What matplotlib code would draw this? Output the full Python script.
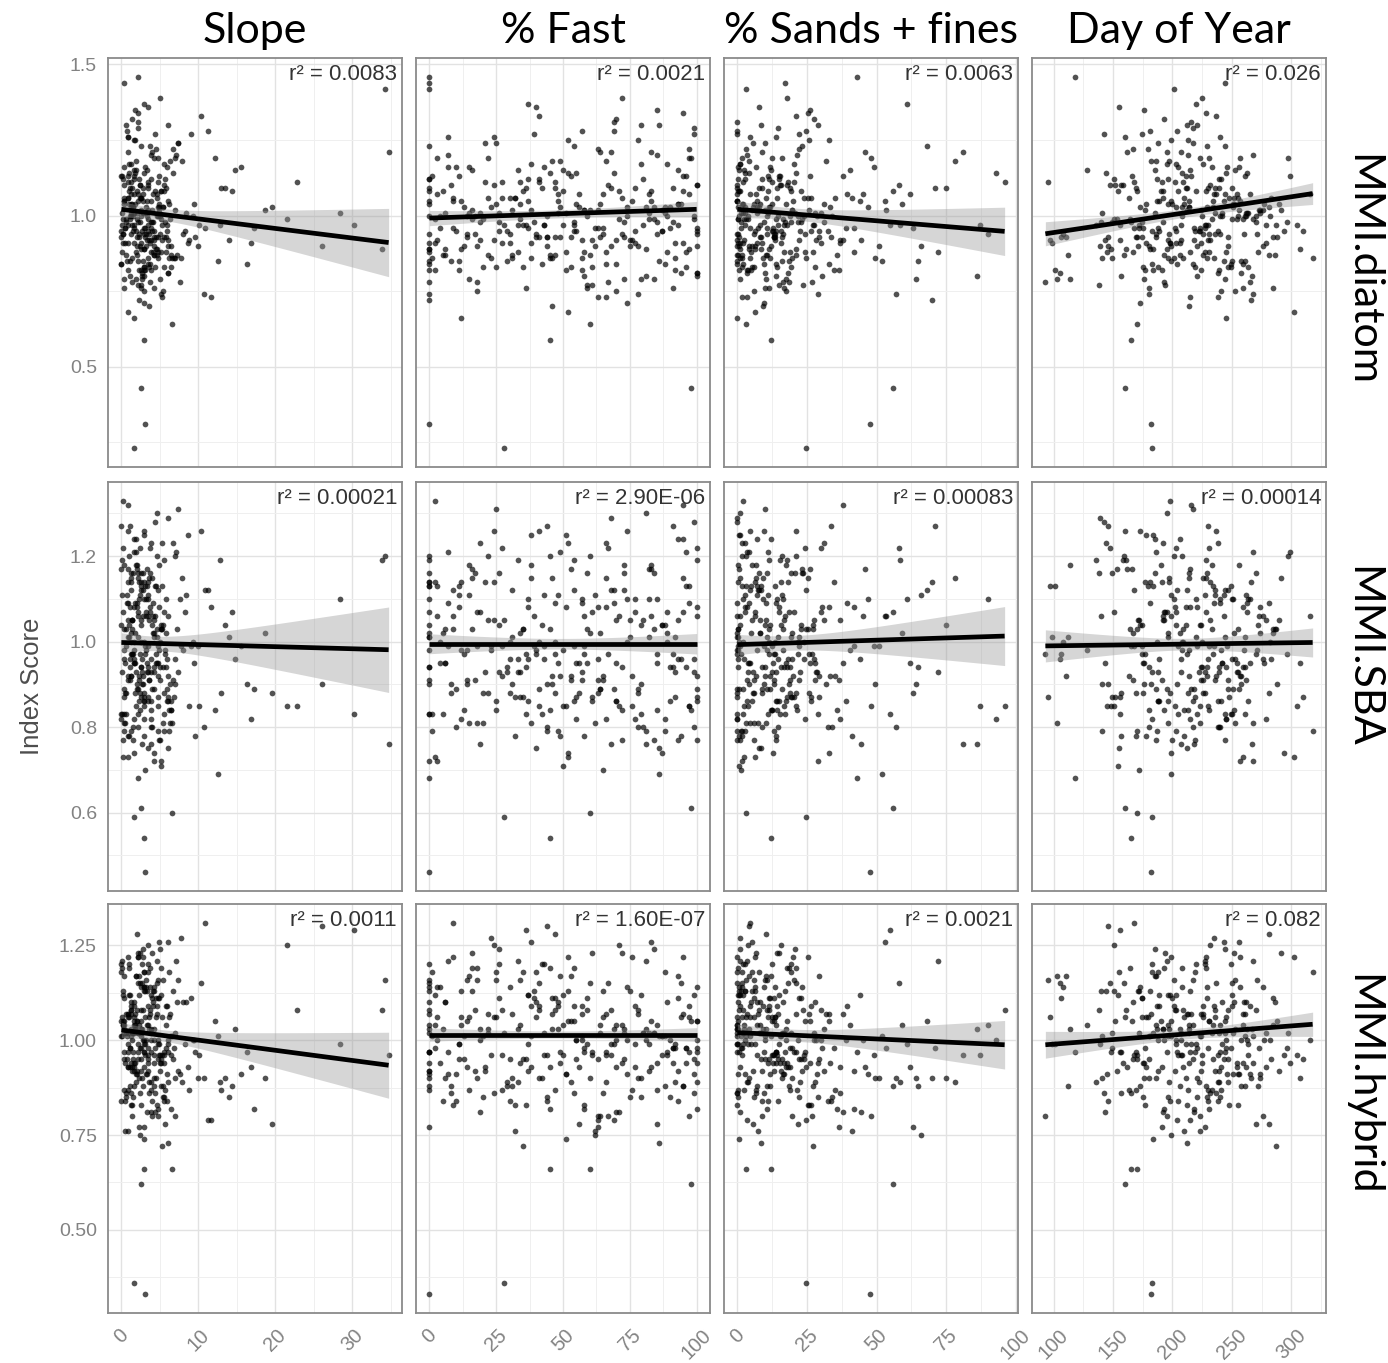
import numpy as np
import matplotlib.pyplot as plt
from matplotlib.ticker import MultipleLocator, FormatStrFormatter

slope = np.array([
    1.6, 3.1, 2.5, 2.9, 6.6, 0.4, 4.8, 2.3, 5.1, 1.2, 0.1, 7.3, 3.7, 5.6, 0.9, 10.4, 2.7, 4.0, 1.5, 14.8,
    3.4, 2.4, 0.6, 5.2, 1.9, 3.3, 6.2, 4.4, 9.1, 0.5, 2.8, 4.6, 1.1, 0.0, 6.1, 3.0, 34.7, 2.0, 5.4, 3.9,
    0.3, 4.2, 1.4, 2.6, 5.9, 12.6, 3.5, 0.9, 5.8, 2.2, 3.0, 1.6, 8.3, 4.7, 2.3, 1.0, 4.8, 6.9, 21.5, 1.4,
    2.0, 5.0, 3.5, 1.1, 7.0, 0.2, 2.9, 4.3, 1.8, 10.9, 4.2, 0.3, 3.6, 2.4, 16.3, 5.7, 1.3, 6.5, 3.2, 0.9,
    1.9, 4.5, 6.4, 2.6, 0.0, 3.8, 3.7, 1.7, 33.9, 2.2, 5.3, 4.9, 0.7, 1.6, 8.8, 2.8, 6.0, 13.4, 3.1, 0.9,
    4.1, 2.5, 1.2, 5.0, 0.4, 3.4, 1.7, 6.3, 7.7, 2.0, 0.1, 11.6, 3.9, 4.3, 2.6, 5.5, 1.0, 6.0, 3.3, 22.8,
    1.5, 4.6, 3.8, 0.9, 2.3, 5.8, 9.6, 2.1, 4.5, 1.8, 2.9, 6.7, 17.2, 3.2, 0.0, 3.1, 5.3, 1.2, 4.0, 2.7,
    0.7, 2.6, 4.9, 6.8, 1.2, 4.0, 3.0, 0.4, 2.4, 12.1, 5.2, 3.6, 1.5, 2.1, 8.0, 4.4, 0.6, 1.7, 30.2, 4.7,
    2.8, 1.0, 5.5, 3.3, 1.4, 7.4, 3.9, 2.0, 0.1, 5.6, 1.6, 14.0, 4.6, 2.5, 6.1, 4.1, 0.3, 9.9, 1.9, 3.5,
    1.3, 3.0, 5.7, 2.2, 6.3, 0.9, 4.8, 4.6, 0.2, 2.9, 2.7, 19.6, 3.7, 3.5, 1.4, 0.0, 7.9, 2.0, 5.0, 5.1,
    0.5, 1.8, 2.9, 4.4, 4.3, 1.2, 10.7, 3.4, 2.4, 6.4, 0.1, 6.7, 3.2, 0.9, 1.9, 15.5, 5.9, 2.6, 1.1, 34.2,
    2.1, 4.2, 1.3, 3.8, 0.2, 5.9, 1.6, 3.1, 2.8, 8.6, 4.7, 0.4, 4.9, 2.3, 13.0, 6.2, 1.4, 3.4, 0.9, 26.0,
    3.6, 0.8, 2.2, 5.4, 1.7, 7.1, 2.9, 4.1, 0.5, 9.3, 3.3, 1.9, 6.0, 2.5, 0.2, 11.3, 4.5, 1.1, 3.0, 18.7,
    4.9, 2.0, 0.6, 3.7, 6.6, 1.4, 2.7, 5.3, 0.3, 3.9, 8.4, 1.8, 4.2, 2.4, 12.8, 0.8, 5.6, 3.2, 1.5, 2.6,
    1.1, 5.1, 3.4, 0.4, 2.3, 4.8, 7.6, 1.6, 3.0, 0.9, 5.8, 2.1, 16.8, 3.6, 1.3, 4.3, 0.0, 6.9, 2.8, 10.1,
    2.5, 3.8, 1.0, 6.1, 4.6, 0.6, 2.9, 9.4, 1.7, 5.0, 3.5, 0.2, 4.0, 7.2, 1.2, 2.2, 5.4, 14.4, 3.1, 28.4,
])

pct_fast = np.array([
    28, 0, 98, 45, 60, 12, 73, 37, 0, 88, 54, 21, 66, 5, 92, 41, 79, 16, 100, 33,
    57, 8, 84, 0, 49, 70, 25, 96, 39, 62, 3, 81, 14, 53, 100, 30, 68, 47, 90, 19,
    0, 75, 36, 59, 10, 86, 43, 27, 64, 99, 51, 6, 77, 34, 0, 94, 58, 22, 71, 45,
    83, 17, 40, 100, 63, 2, 55, 31, 78, 9, 91, 48, 24, 67, 0, 85, 38, 13, 74, 52,
    29, 97, 61, 4, 44, 80, 18, 56, 0, 69, 35, 93, 11, 50, 76, 26, 100, 42, 65, 7,
    89, 32, 0, 72, 15, 58, 95, 46, 23, 82, 1, 63, 37, 87, 54, 20, 0, 68, 99, 41,
    13, 60, 85, 28, 0, 77, 49, 95, 6, 34, 70, 52, 100, 19, 88, 43, 3, 65, 26, 81,
    57, 0, 38, 92, 47, 10, 74, 30, 62, 98, 16, 53, 84, 0, 40, 71, 22, 96, 36, 59,
    8, 79, 44, 0, 67, 25, 90, 51, 33, 100, 12, 75, 48, 2, 86, 39, 64, 18, 93, 55,
    31, 97, 0, 61, 20, 83, 46, 9, 72, 37, 94, 56, 27, 0, 80, 42, 66, 14, 89, 50,
    4, 69, 35, 99, 57, 0, 78, 24, 91, 45, 15, 63, 100, 32, 73, 7, 54, 87, 29, 0,
    82, 41, 17, 66, 0, 93, 52, 11, 76, 38, 97, 59, 23, 85, 47, 1, 70, 34, 95, 44,
    65, 21, 0, 88, 43, 7, 58, 97, 30, 74, 16, 51, 83, 36, 2, 69, 47, 91, 25, 60,
    11, 78, 54, 0, 38, 93, 26, 66, 100, 19, 48, 85, 5, 72, 33, 57, 89, 14, 44, 0,
    99, 35, 70, 15, 53, 81, 0, 41, 63, 24, 96, 9, 77, 46, 58, 3, 87, 31, 68, 50,
    22, 92, 45, 61, 0, 79, 12, 55, 37, 84, 27, 100, 64, 6, 49, 73, 18, 95, 40, 82,
])

pct_sands = np.array([
    24.5, 47.5, 56, 12, 3, 0, 8.5, 15, 27, 1.2, 18, 5.5, 33, 11, 0.4, 21, 64, 6.8, 14, 2.3,
    9.2, 0, 16.5, 29, 4.1, 38, 12.6, 1.5, 22, 7.3, 45, 0.8, 19, 26, 3.6, 13.4, 81, 10.2, 0.2, 31,
    17.2, 5.1, 0, 23.5, 11.8, 52, 2.7, 35, 8.1, 14.7, 0.6, 28, 6.2, 20.3, 70, 1.8, 42, 15.9, 3.9, 24.8,
    0.3, 13.1, 7.7, 30.5, 19.6, 2.1, 93, 10.8, 25.7, 4.6, 16.8, 0, 37, 58, 9.6, 21.9, 1.1, 12.2, 47, 6.5,
    22.6, 3.2, 14.3, 0.7, 33.8, 8.8, 18.4, 62, 11.5, 0, 27.1, 5.9, 16.1, 40.5, 2.5, 20.7, 9.9, 75, 1.4, 13.8,
    4.8, 26.3, 0.1, 17.9, 10.4, 53.5, 7.1, 31.7, 0.9, 23.1, 15.2, 3.4, 44, 12.9, 68, 6.0, 19.1, 0, 28.6, 96,
    11.2, 1.6, 21.4, 8.3, 36.4, 14.1, 0.5, 25.2, 4.3, 59, 17.6, 2.9, 10.6, 29.9, 0, 49, 13.6, 6.6, 22.9, 86,
    0, 15.6, 5.3, 19.8, 2.0, 32.4, 9.4, 24.1, 66, 12.4, 0.3, 27.8, 7.9, 43, 16.3, 1.0, 20.9, 11.0, 55, 3.7,
    18.7, 0.8, 13.3, 6.9, 26.9, 10.0, 39, 2.6, 72, 15.4, 0, 22.3, 4.4, 34.6, 8.6, 17.0, 1.9, 51, 12.0, 29.3,
    7.5, 21.2, 0.4, 14.9, 3.1, 46, 11.6, 25.4, 0, 61, 18.1, 5.7, 30.1, 9.0, 16.7, 2.2, 78, 13.0, 23.8, 0.6,
    12.7, 4.0, 19.3, 0, 28.2, 8.0, 57, 15.8, 1.3, 35.9, 10.9, 22.0, 6.3, 41, 17.4, 0.2, 26.5, 9.8, 65, 3.0,
    0, 16.0, 10.5, 24.4, 2.8, 14.5, 32.9, 5.0, 20.1, 0.9, 48, 11.3, 7.2, 90, 18.9, 1.7, 27.4, 13.7, 38, 4.2,
    6.1, 18.3, 0, 11.9, 27.7, 3.5, 14.0, 39.5, 8.7, 21.6, 0.5, 16.9, 53, 10.1, 2.4, 24.7, 13.2, 71, 5.4, 19.7,
    15.1, 0.7, 9.5, 23.3, 4.5, 31.2, 12.3, 1.6, 17.8, 44.5, 7.0, 26.0, 0, 14.2, 58.5, 3.3, 20.4, 10.7, 34.1, 8.4,
    0.2, 22.8, 13.9, 6.7, 29.5, 2.9, 16.4, 11.4, 63, 4.7, 19.0, 0, 36.8, 9.3, 25.6, 1.5, 15.5, 49.5, 7.6, 87,
    10.3, 3.8, 21.0, 0, 14.6, 28.9, 6.4, 17.3, 42, 1.1, 12.5, 24.2, 8.9, 0.4, 33.3, 19.4, 5.8, 56, 13.5, 2.0,
])

day_of_year = np.array([
    183, 182, 160, 165, 170, 214, 247, 196, 272, 141, 228, 188, 259, 205, 99, 237, 176, 291, 219, 253,
    201, 157, 233, 268, 186, 143, 210, 249, 174, 223, 316, 195, 262, 166, 238, 108, 207, 281, 229, 192,
    244, 171, 212, 138, 256, 199, 227, 163, 285, 217, 184, 242, 203, 95, 266, 178, 231, 297, 151, 209,
    190, 236, 155, 221, 276, 198, 245, 112, 213, 168, 259, 187, 232, 147, 204, 270, 226, 180, 251, 302,
    222, 179, 264, 208, 146, 239, 193, 254, 161, 216, 287, 200, 243, 128, 230, 185, 258, 211, 172, 240,
    167, 248, 197, 225, 103, 273, 206, 182, 235, 153, 261, 215, 189, 294, 244, 175, 220, 139, 255, 202,
    234, 159, 213, 279, 191, 250, 169, 228, 307, 196, 241, 144, 218, 263, 183, 205, 97, 237, 174, 267,
    181, 224, 256, 149, 209, 238, 173, 283, 199, 231, 164, 247, 214, 118, 260, 192, 226, 299, 156, 242,
    258, 203, 170, 234, 93, 217, 188, 274, 227, 158, 245, 196, 265, 177, 212, 140, 251, 221, 185, 310,
    212, 148, 241, 194, 268, 162, 229, 255, 186, 220, 105, 281, 203, 239, 172, 249, 197, 288, 225, 154,
    175, 263, 219, 142, 207, 252, 180, 232, 296, 193, 236, 167, 276, 210, 114, 246, 189, 224, 261, 201,
    244, 186, 270, 215, 151, 230, 199, 101, 257, 178, 223, 285, 208, 240, 169, 318, 193, 254, 216, 146,
    226, 191, 250, 173, 207, 268, 157, 235, 198, 282, 215, 145, 243, 180, 259, 204, 106, 230, 188, 274,
    211, 247, 165, 229, 196, 290, 183, 238, 152, 218, 262, 176, 206, 252, 136, 224, 195, 271, 240, 184,
    250, 170, 217, 233, 110, 203, 265, 187, 227, 160, 245, 199, 279, 214, 177, 257, 223, 141, 236, 305,
    192, 239, 208, 156, 261, 221, 181, 277, 202, 244, 168, 231, 195, 286, 214, 149, 253, 228, 174, 264,
])

mmi_diatom = np.array([
    0.23, 0.31, 0.43, 0.59, 0.64, 1.05, 0.93, 1.12, 0.88, 1.01, 0.97, 1.24, 0.84, 1.08, 0.91, 1.33, 0.79, 1.02, 0.95, 1.15,
    0.86, 1.10, 0.99, 0.74, 1.18, 0.92, 1.04, 0.83, 1.27, 0.96, 1.07, 0.89, 1.00, 1.13, 0.81, 0.94, 1.21, 0.87, 1.03, 0.98,
    1.44, 0.90, 1.09, 0.77, 1.16, 0.85, 0.97, 1.06, 0.93, 1.29, 0.82, 1.01, 0.95, 1.11, 0.72, 1.04, 0.88, 1.19, 0.99, 0.86,
    1.08, 0.94, 1.36, 0.80, 1.02, 0.91, 1.14, 0.87, 1.25, 0.96, 0.76, 1.05, 0.92, 1.10, 0.84, 0.98, 1.17, 0.90, 1.03, 0.68,
    0.95, 1.22, 0.83, 1.00, 0.93, 1.12, 0.78, 1.07, 0.89, 1.31, 0.97, 1.04, 0.85, 1.15, 0.92, 1.01, 0.81, 1.09, 0.96, 1.26,
    0.88, 1.06, 0.94, 1.39, 0.79, 1.02, 0.91, 1.18, 0.86, 0.99, 1.13, 0.73, 1.05, 0.95, 1.23, 0.83, 1.08, 0.90, 1.00, 1.11,
    1.03, 0.87, 1.20, 0.97, 0.82, 1.09, 0.93, 1.34, 0.89, 1.04, 0.75, 1.14, 0.96, 1.01, 0.84, 1.16, 0.92, 1.07, 0.98, 0.80,
    1.28, 0.91, 1.02, 0.86, 1.11, 0.95, 0.71, 1.06, 0.90, 1.19, 0.99, 0.83, 1.03, 1.46, 0.94, 1.08, 0.87, 1.13, 0.97, 1.00,
    0.85, 1.17, 0.93, 1.05, 0.78, 1.24, 0.96, 1.01, 0.88, 1.10, 0.66, 0.92, 1.07, 0.82, 1.30, 0.98, 1.04, 0.90, 1.15, 0.95,
    1.02, 0.89, 1.12, 0.77, 0.99, 1.21, 0.86, 1.06, 0.94, 1.37, 0.81, 1.03, 0.91, 1.09, 0.97, 0.84, 1.18, 0.93, 1.00, 1.08,
    0.96, 1.14, 0.83, 1.27, 0.92, 1.04, 0.74, 1.10, 0.98, 0.87, 1.01, 1.22, 0.90, 1.06, 0.79, 1.16, 0.95, 1.02, 0.85, 1.42,
    1.07, 0.93, 1.00, 0.88, 1.12, 0.97, 1.25, 0.82, 1.05, 0.91, 1.19, 0.76, 1.03, 0.94, 1.09, 0.86, 1.32, 0.99, 1.13, 0.90,
    0.94, 1.11, 0.85, 1.03, 0.97, 1.20, 0.80, 1.07, 0.91, 1.00, 1.15, 0.88, 1.05, 0.76, 0.99, 1.28, 0.93, 1.09, 0.83, 1.02,
    1.13, 0.90, 0.98, 1.23, 0.86, 1.04, 0.95, 0.73, 1.10, 0.92, 1.01, 1.35, 0.87, 1.06, 0.97, 0.82, 1.17, 0.94, 1.00, 0.89,
    0.99, 1.08, 0.84, 1.16, 0.93, 1.03, 0.78, 1.12, 0.96, 1.26, 0.88, 1.05, 0.91, 0.70, 1.02, 1.19, 0.95, 0.86, 1.09, 0.97,
    1.06, 0.82, 1.14, 0.92, 1.00, 1.30, 0.89, 1.04, 0.96, 0.79, 1.11, 0.94, 1.21, 0.87, 1.03, 0.98, 0.75, 1.08, 0.93, 1.01,
])

mmi_sba = np.array([
    0.59, 0.46, 0.61, 0.54, 0.60, 0.98, 1.12, 0.86, 1.04, 0.79, 1.19, 0.93, 1.08, 0.83, 1.01, 1.26, 0.90, 1.15, 0.77, 0.96,
    1.10, 0.88, 1.03, 0.72, 1.21, 0.95, 0.84, 1.13, 0.99, 0.81, 1.06, 1.30, 0.91, 1.17, 0.86, 1.00, 0.76, 1.09, 0.94, 1.23,
    0.83, 1.05, 0.97, 1.16, 0.89, 0.69, 1.11, 0.92, 1.02, 0.80, 1.25, 0.95, 1.07, 0.87, 1.14, 0.78, 0.99, 1.20, 0.85, 1.03,
    1.18, 0.91, 0.75, 1.08, 0.96, 1.33, 0.82, 1.01, 0.88, 1.12, 0.94, 0.79, 1.05, 1.22, 0.90, 0.97, 1.15, 0.84, 1.10, 0.73,
    0.93, 1.13, 0.86, 1.00, 1.27, 0.80, 1.07, 0.95, 1.19, 0.89, 1.03, 0.77, 1.11, 0.98, 0.85, 1.16, 0.92, 1.04, 0.70, 1.09,
    1.02, 0.87, 1.14, 0.94, 0.81, 1.06, 1.24, 0.90, 0.99, 1.17, 0.83, 1.08, 0.96, 0.74, 1.12, 0.88, 1.01, 1.29, 0.93, 0.85,
    0.97, 1.20, 0.84, 1.05, 0.91, 1.10, 0.78, 1.15, 0.95, 1.02, 0.86, 1.23, 0.89, 1.07, 0.82, 0.99, 1.13, 0.92, 1.04, 0.76,
    1.09, 0.94, 1.18, 0.87, 1.00, 0.80, 1.26, 0.96, 1.11, 0.84, 1.03, 0.91, 1.16, 0.68, 0.98, 1.06, 0.88, 1.21, 0.83, 0.95,
    0.90, 1.04, 0.79, 1.13, 0.97, 1.31, 0.86, 1.08, 0.93, 1.19, 0.82, 1.01, 0.95, 1.14, 0.75, 1.06, 0.89, 0.99, 1.24, 0.87,
    1.12, 0.85, 0.98, 1.07, 0.81, 1.17, 0.92, 1.03, 0.77, 1.10, 0.96, 0.88, 1.22, 0.94, 1.05, 0.83, 1.15, 0.90, 1.00, 0.71,
    0.95, 1.09, 0.87, 1.28, 0.93, 1.02, 0.80, 1.14, 0.97, 0.84, 1.11, 0.91, 1.06, 0.78, 1.18, 0.99, 0.86, 1.04, 0.94, 1.20,
    1.01, 0.89, 1.16, 0.82, 1.07, 0.96, 0.74, 1.13, 0.92, 1.25, 0.85, 1.03, 0.98, 1.10, 0.88, 0.79, 1.05, 0.93, 1.32, 0.90,
    0.91, 1.14, 0.83, 1.04, 0.96, 1.21, 0.78, 1.09, 0.88, 1.00, 1.17, 0.85, 1.06, 0.94, 0.73, 1.12, 0.97, 1.27, 0.86, 1.02,
    1.08, 0.89, 0.99, 1.16, 0.81, 1.05, 0.93, 1.23, 0.87, 0.76, 1.11, 0.95, 1.02, 0.84, 1.19, 0.91, 1.07, 0.98, 0.80, 1.13,
    0.96, 1.03, 0.86, 1.18, 0.92, 0.79, 1.10, 1.00, 0.88, 1.26, 0.94, 1.06, 0.82, 1.15, 0.97, 0.72, 1.04, 0.90, 1.12, 0.85,
    1.05, 0.93, 1.20, 0.87, 1.01, 0.83, 1.14, 0.95, 1.08, 0.77, 0.99, 1.22, 0.89, 1.03, 0.92, 1.16, 0.81, 1.07, 0.97, 1.10,
])

mmi_hybrid = np.array([
    0.36, 0.33, 0.62, 0.66, 0.66, 1.04, 0.95, 1.12, 0.88, 1.01, 1.19, 0.92, 1.07, 0.84, 0.99, 1.15, 0.90, 1.23, 0.97, 1.03,
    1.09, 0.86, 1.02, 0.94, 1.17, 0.81, 1.06, 0.98, 1.11, 0.76, 1.00, 1.21, 0.93, 1.05, 0.89, 1.14, 0.96, 1.28, 0.85, 1.03,
    0.97, 1.13, 0.83, 1.08, 0.91, 1.01, 1.20, 0.87, 1.04, 0.95, 0.74, 1.10, 0.99, 1.16, 0.90, 1.06, 0.82, 1.02, 1.25, 0.93,
    1.05, 0.92, 1.18, 0.98, 0.80, 1.12, 1.00, 0.88, 1.07, 1.31, 0.94, 1.03, 0.86, 1.15, 0.97, 0.78, 1.09, 1.01, 0.91, 1.22,
    0.89, 1.06, 0.96, 1.14, 0.84, 1.02, 1.19, 0.93, 1.08, 0.99, 0.72, 1.11, 0.95, 1.04, 0.87, 1.24, 1.00, 0.90, 1.13, 0.97,
    1.10, 0.83, 1.03, 0.94, 1.17, 0.98, 0.88, 1.07, 1.27, 0.92, 1.01, 0.79, 1.12, 0.96, 1.05, 0.85, 1.20, 0.99, 0.91, 1.08,
    0.95, 1.15, 0.87, 1.02, 0.77, 1.09, 0.97, 1.22, 0.90, 1.04, 0.93, 1.13, 0.82, 1.00, 1.18, 0.96, 1.06, 0.86, 1.11, 1.03,
    1.01, 0.92, 1.26, 0.98, 1.08, 0.84, 1.14, 0.95, 0.75, 1.05, 1.19, 0.89, 1.02, 0.97, 1.10, 0.81, 1.07, 0.94, 1.29, 0.99,
    0.88, 1.12, 0.96, 1.04, 0.80, 1.16, 1.00, 0.91, 1.21, 0.94, 1.06, 0.85, 1.09, 0.98, 0.73, 1.13, 1.02, 0.90, 1.17, 0.95,
    1.07, 0.97, 0.87, 1.23, 1.01, 0.93, 1.11, 0.83, 1.04, 0.99, 1.15, 0.78, 1.08, 0.92, 1.02, 1.20, 0.89, 1.05, 0.96, 1.12,
    0.94, 1.03, 1.18, 0.86, 1.00, 1.10, 0.90, 1.25, 0.98, 0.82, 1.06, 0.95, 1.14, 0.76, 1.03, 0.91, 1.09, 1.01, 0.88, 1.16,
    1.02, 0.90, 1.08, 0.97, 1.13, 0.84, 1.05, 0.99, 1.22, 0.93, 0.80, 1.11, 0.96, 1.04, 0.87, 1.18, 1.00, 0.94, 1.07, 1.30,
    1.06, 0.93, 1.15, 0.88, 1.02, 1.21, 0.97, 1.09, 0.84, 1.00, 1.13, 0.91, 1.26, 0.95, 1.04, 0.79, 1.11, 0.98, 1.18, 0.90,
    0.99, 1.08, 0.86, 1.14, 1.01, 0.92, 1.20, 0.96, 1.05, 0.81, 1.10, 0.94, 1.03, 1.23, 0.89, 1.07, 0.97, 1.16, 0.85, 1.02,
    1.12, 0.95, 1.04, 0.87, 1.17, 1.00, 0.91, 1.09, 0.77, 1.06, 0.98, 1.22, 0.93, 1.03, 0.83, 1.14, 1.01, 0.90, 1.08, 0.96,
    1.03, 0.89, 1.19, 0.97, 1.07, 0.85, 1.13, 1.00, 0.92, 1.24, 0.96, 1.05, 0.80, 1.10, 0.94, 1.02, 1.16, 0.88, 1.06, 0.99,
])

col_titles = ["Slope", "% Fast", "% Sands + fines", "Day of Year"]
row_titles = ["MMI.diatom", "MMI.SBA", "MMI.hybrid"]

r2_labels = [
    ["0.0083", "0.0021", "0.0063", "0.026"],
    ["0.00021", "2.90E-06", "0.00083", "0.00014"],
    ["0.0011", "1.60E-07", "0.0021", "0.082"],
]

# fitted line at the left / right end of each panel and CI half width at the right end
fit_left = [
    [1.021, 0.992, 1.021, 0.940],
    [0.998, 0.995, 0.993, 0.990],
    [1.027, 1.015, 1.020, 0.988],
]
fit_right = [
    [0.911, 1.021, 0.948, 1.073],
    [0.981, 0.995, 1.013, 0.998],
    [0.934, 1.015, 0.988, 1.042],
]
band_right = [
    [0.113, 0.026, 0.080, 0.036],
    [0.100, 0.024, 0.069, 0.034],
    [0.087, 0.018, 0.064, 0.032],
]

x_vars = [slope, pct_fast, pct_sands, day_of_year]
y_vars = [mmi_diatom, mmi_sba, mmi_hybrid]

x_major = [10, 25, 25, 50]
y_major = [0.5, 0.2, 0.25]
y_fmt = ["%.1f", "%.1f", "%.2f"]

# layout in pixels of the 1388 x 1363 canvas
W, H = 1388, 1363
col_left = [108, 416, 724, 1032]
panel_w = 294
row_top = [58, 482, 904]
panel_h = 409

plt.rcParams['font.family'] = ['Liberation Sans', 'DejaVu Sans']

fig = plt.figure(figsize=(W / 100, H / 100), dpi=100)
axes = [[None] * 4 for _ in range(3)]
for r in range(3):
    for c in range(4):
        rect = [col_left[c] / W, 1 - (row_top[r] + panel_h) / H, panel_w / W, panel_h / H]
        kw = {}
        if r > 0:
            kw['sharex'] = axes[0][c]
        if c > 0:
            kw['sharey'] = axes[r][0]
        axes[r][c] = fig.add_axes(rect, **kw)

for r in range(3):
    for c in range(4):
        ax = axes[r][c]
        x = x_vars[c]
        y = y_vars[r]
        ax.set_facecolor('white')
        ax.grid(True, which='major', color='#e2e2e2', lw=1.0, zorder=0)
        ax.grid(True, which='minor', color='#efefef', lw=0.7, zorder=0)
        ax.set_axisbelow(True)

        ax.scatter(x, y, s=17, color='black', alpha=0.68, linewidths=0, zorder=2)

        # regression line with confidence band
        xs = np.linspace(x.min(), x.max(), 200)
        ys = fit_left[r][c] + (fit_right[r][c] - fit_left[r][c]) * (xs - x.min()) / (x.max() - x.min())
        sxx = np.sum((x - x.mean()) ** 2)
        se = np.sqrt(1 / len(x) + (xs - x.mean()) ** 2 / sxx)
        half = band_right[r][c] * se / se[-1]
        ax.fill_between(xs, ys - half, ys + half, color='#999999', alpha=0.4, lw=0, zorder=3)
        ax.plot(xs, ys, color='black', lw=3.4, zorder=4, solid_capstyle='butt')

        ax.text(0.983, 0.986, "r\u00b2 = " + r2_labels[r][c], transform=ax.transAxes,
                ha='right', va='top', fontsize=16, color='#333333', zorder=5)

        ax.margins(x=0.05, y=0.05)
        ax.xaxis.set_major_locator(MultipleLocator(x_major[c]))
        ax.xaxis.set_minor_locator(MultipleLocator(x_major[c] / 2))
        ax.yaxis.set_major_locator(MultipleLocator(y_major[r]))
        ax.yaxis.set_minor_locator(MultipleLocator(y_major[r] / 2))
        ax.yaxis.set_major_formatter(FormatStrFormatter(y_fmt[r]))

        for sp in ax.spines.values():
            sp.set_color('#8a8a8a')
            sp.set_linewidth(1.3)

        ax.tick_params(which='both', length=0)
        ax.tick_params(axis='y', labelsize=14, labelcolor='#828282', pad=8, labelleft=(c == 0))
        ax.tick_params(axis='x', labelsize=14.5, labelcolor='#828282', pad=9, labelbottom=(r == 2))
        if r == 2:
            for lab in ax.get_xticklabels():
                lab.set_rotation(45)
                lab.set_ha('center')
                lab.set_va('top')

# column titles and row labels
col_centers = [255, 563, 871, 1179]
for c, t in enumerate(col_titles):
    fig.text(col_centers[c] / W, 1 - 43 / H, t, ha='center', va='baseline',
             fontsize=31, family=['Lato', 'DejaVu Sans'], color='black')

row_centers = [270, 657, 1085]
for r, t in enumerate(row_titles):
    fig.text(1362 / W, 1 - row_centers[r] / H, t, ha='center', va='center', rotation=-90,
             fontsize=31, family=['Lato', 'DejaVu Sans'], color='black')

fig.text(32 / W, 1 - 686 / H, "Index Score", ha='center', va='center', rotation=90,
         fontsize=18.5, color='#4d4d4d')

fig.savefig('out.png', dpi=100, facecolor='white')
